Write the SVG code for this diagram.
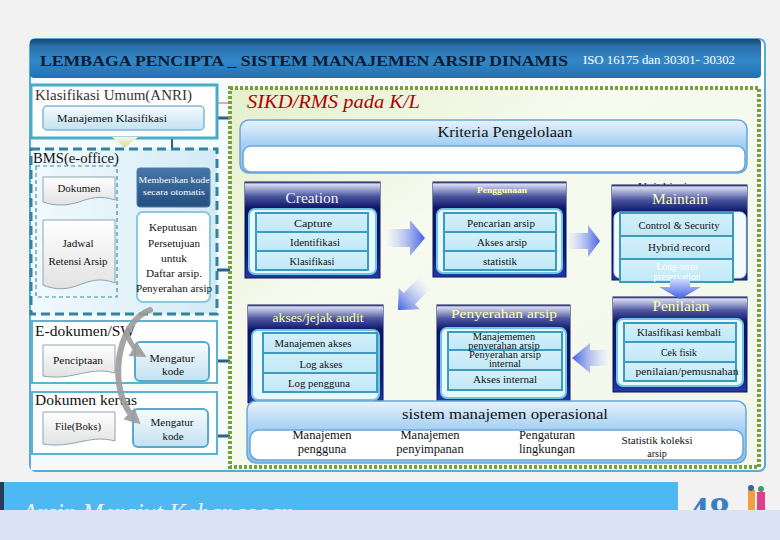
<svg xmlns="http://www.w3.org/2000/svg" width="780" height="540" viewBox="0 0 780 540">
<defs>
  <linearGradient id="hdrBlue" x1="0" y1="0" x2="0" y2="1">
    <stop offset="0" stop-color="#16456f"/><stop offset="0.18" stop-color="#2a6eaa"/><stop offset="0.55" stop-color="#3388c8"/><stop offset="1" stop-color="#2370b0"/>
  </linearGradient>
  <linearGradient id="btnG" x1="0" y1="0" x2="0" y2="1">
    <stop offset="0" stop-color="#f7fcfe"/><stop offset="1" stop-color="#c2e1f1"/>
  </linearGradient>
  <linearGradient id="darkBtn" x1="0" y1="0" x2="0" y2="1">
    <stop offset="0" stop-color="#4676a8"/><stop offset="1" stop-color="#234f7e"/>
  </linearGradient>
  <linearGradient id="bmsG" x1="0" y1="0" x2="1" y2="0">
    <stop offset="0" stop-color="#f2fafd"/><stop offset="1" stop-color="#d3ebf5"/>
  </linearGradient>
  <linearGradient id="docG" x1="0" y1="0" x2="0" y2="1">
    <stop offset="0" stop-color="#ffffff"/><stop offset="1" stop-color="#e2e2e2"/>
  </linearGradient>
  <linearGradient id="chevG" x1="0" y1="0" x2="0" y2="1">
    <stop offset="0" stop-color="#f6f7e4"/><stop offset="1" stop-color="#d5dba0"/>
  </linearGradient>
  <linearGradient id="greenBg" x1="0" y1="0" x2="1" y2="1">
    <stop offset="0" stop-color="#e4efcb"/><stop offset="0.35" stop-color="#f6faef"/><stop offset="1" stop-color="#f2f7ea"/>
  </linearGradient>
  <linearGradient id="critG" x1="0" y1="0" x2="0" y2="1">
    <stop offset="0" stop-color="#e8f3fd"/><stop offset="0.45" stop-color="#a6d0f4"/><stop offset="1" stop-color="#8ac0ef"/>
  </linearGradient>
  <linearGradient id="navyG" x1="0" y1="0" x2="0" y2="1">
    <stop offset="0" stop-color="#0a1460"/><stop offset="0.75" stop-color="#0d1a78"/><stop offset="1" stop-color="#2438aa"/>
  </linearGradient>
  <linearGradient id="hdrG" x1="0" y1="0" x2="0" y2="1">
    <stop offset="0" stop-color="#0a1250"/><stop offset="0.08" stop-color="#d9ddf2"/><stop offset="0.55" stop-color="#4a559f"/><stop offset="1" stop-color="#0c1668"/>
  </linearGradient>
  <linearGradient id="rowG" x1="0" y1="0" x2="0" y2="1">
    <stop offset="0" stop-color="#d4f0fa"/><stop offset="1" stop-color="#c0e8f7"/>
  </linearGradient>
  <linearGradient id="arrR" x1="0" y1="0" x2="1" y2="0">
    <stop offset="0" stop-color="#eef2ff" stop-opacity="0.4"/><stop offset="1" stop-color="#3f5fe2"/>
  </linearGradient>
  <linearGradient id="arrL" x1="1" y1="0" x2="0" y2="0">
    <stop offset="0" stop-color="#eef2ff" stop-opacity="0.4"/><stop offset="1" stop-color="#3f5fe2"/>
  </linearGradient>
  <linearGradient id="arrD" x1="0" y1="0" x2="0" y2="1">
    <stop offset="0" stop-color="#cfd9ff"/><stop offset="1" stop-color="#3f5fe2"/>
  </linearGradient>
  <marker id="ah" viewBox="0 0 10 10" refX="8" refY="5" markerWidth="8" markerHeight="8" markerUnits="userSpaceOnUse" orient="auto">
    <path d="M0,0 L10,5 L0,10 z" fill="#2d5f8c"/>
  </marker>
  <marker id="gh" viewBox="0 0 10 10" refX="6" refY="5" markerWidth="16" markerHeight="16" markerUnits="userSpaceOnUse" orient="auto">
    <path d="M0,0 L10,5 L0,10 z" fill="#9c9c9c"/>
  </marker>
  <clipPath id="bannerClip"><rect x="0" y="482" width="780" height="28"/></clipPath>
</defs>
<style>
  text{font-family:"Liberation Serif","DejaVu Serif",serif}
  .t{fill:#111;font-size:10.5px;text-anchor:middle}
  .row{fill:url(#rowG);stroke:#3a9bbf;stroke-width:2}
  .body{fill:#e9f8fd;stroke:#6fc6e2;stroke-width:2}
  .outer{fill:url(#navyG);stroke:#0b145a;stroke-width:1}
  .hdr{fill:url(#hdrG)}
  .ht{fill:#ffffa8;text-anchor:middle}
  .doc{fill:url(#docG);stroke:#8aa5b6;stroke-width:1}
  .conn{stroke:#2d5f8c;stroke-width:3;fill:none}
  .btn{fill:url(#btnG);stroke:#5ba9cc;stroke-width:2}
  .big{fill:#333;font-size:14.5px}
</style>

<!-- background -->
<rect width="780" height="540" fill="#f2f2f2"/>
<rect x="0" y="510" width="780" height="30" fill="#dae3f3"/>

<!-- main frame -->
<g id="frame">
  <rect x="30" y="39" width="735" height="432" rx="6" fill="#ffffff" stroke="#5aa9d6" stroke-width="2"/>
  <rect x="31" y="78" width="199" height="392" fill="#f5fbfd"/>
  <rect x="30" y="39" width="731" height="39" rx="4" fill="url(#hdrBlue)"/>
  <text x="40" y="66" font-size="14" font-weight="bold" fill="#0c1b36" textLength="528" lengthAdjust="spacingAndGlyphs">LEMBAGA PENCIPTA _ SISTEM MANAJEMEN ARSIP DINAMIS</text>
  <text x="583" y="64" font-size="12" fill="#ffffff" textLength="152" lengthAdjust="spacingAndGlyphs">ISO 16175 dan 30301- 30302</text>
</g>

<!-- connectors -->
<g id="connectors">
  <line x1="217" y1="103" x2="231" y2="103" stroke="#e2a9b5" stroke-width="2"/>
  <line class="conn" x1="204" y1="118" x2="231" y2="118"/>
  <line x1="172" y1="130" x2="172" y2="166" stroke="#2d5f8c" stroke-width="2" marker-end="url(#ah)"/>
  <line x1="137" y1="189" x2="126" y2="189" stroke="#2d5f8c" stroke-width="2" marker-end="url(#ah)"/>
  <line x1="125" y1="220" x2="136" y2="220" stroke="#2d5f8c" stroke-width="2" marker-end="url(#ah)"/>
  <line class="conn" x1="210" y1="270" x2="231" y2="270"/>
  <line class="conn" x1="209" y1="361" x2="231" y2="361"/>
  <line class="conn" x1="208" y1="436" x2="231" y2="436"/>
</g>

<!-- left column -->
<g id="klasifikasi-umum">
  <rect x="31" y="85" width="186" height="53" fill="#ffffff" stroke="#4bacc6" stroke-width="3"/>
  <text class="big" x="35" y="100" textLength="157" lengthAdjust="spacingAndGlyphs">Klasifikasi Umum(ANRI)</text>
</g>
<g id="manajemen-klasifikasi">
  <rect x="43" y="106" width="161" height="24" rx="4" fill="url(#btnG)" stroke="#7fb8d8" stroke-width="1.5"/>
  <text x="57" y="122" font-size="11" fill="#111" textLength="110" lengthAdjust="spacingAndGlyphs">Manajemen Klasifikasi</text>
</g>
<polygon points="112,137 138,137 125,148" fill="url(#chevG)"/>

<g id="bms">
  <rect x="31" y="149" width="186" height="165" fill="url(#bmsG)" stroke="#31849b" stroke-width="3" stroke-dasharray="9 5"/>
  <rect x="36" y="166" width="81" height="131" fill="none" stroke="#3a8fa8" stroke-width="1.2" stroke-dasharray="4 3"/>
  <text x="33" y="163" font-size="14" fill="#111" textLength="86" lengthAdjust="spacingAndGlyphs">BMS(e-office)</text>
</g>
<g id="dokumen">
  <path class="doc" d="M43,177 H115 V200 C100,195 90,198 79,202 C66,206 55,206 43,202 Z"/>
  <text class="t" x="79" y="192" font-size="10" textLength="43" lengthAdjust="spacingAndGlyphs">Dokumen</text>
</g>
<g id="jadwal-retensi">
  <path class="doc" d="M43,220 H115 V283 C100,277 90,281 79,285 C66,290 55,290 43,285 Z"/>
  <text class="t" x="78" y="247" textLength="31" lengthAdjust="spacingAndGlyphs">Jadwal</text>
  <text class="t" x="78" y="265" textLength="59" lengthAdjust="spacingAndGlyphs">Retensi Arsip</text>
</g>
<g id="memberikan-kode">
  <rect x="137" y="168" width="73" height="39" rx="3" fill="url(#darkBtn)" stroke="#4a7fb0" stroke-width="1"/>
  <text x="174" y="183" font-size="9" fill="#ffffff" text-anchor="middle" textLength="71" lengthAdjust="spacingAndGlyphs">Memberikan kode</text>
  <text x="174" y="195" font-size="9" fill="#ffffff" text-anchor="middle" textLength="62" lengthAdjust="spacingAndGlyphs">secara otomatis</text>
</g>
<g id="keputusan">
  <rect x="137" y="212" width="73" height="90" rx="6" fill="#ffffff" stroke="#8cc8de" stroke-width="2"/>
  <text class="t" x="173" y="231" textLength="48" lengthAdjust="spacingAndGlyphs">Keputusan</text>
  <text class="t" x="174" y="247" textLength="52" lengthAdjust="spacingAndGlyphs">Persetujuan</text>
  <text class="t" x="174" y="262" textLength="26" lengthAdjust="spacingAndGlyphs">untuk</text>
  <text class="t" x="174" y="277" textLength="56" lengthAdjust="spacingAndGlyphs">Daftar arsip.</text>
  <text class="t" x="174" y="292" textLength="76" lengthAdjust="spacingAndGlyphs">Penyerahan arsip</text>
</g>

<g id="e-dokumen">
  <rect x="32" y="321" width="185" height="62" fill="#ffffff" stroke="#5bb3d0" stroke-width="2"/>
  <text x="35" y="336" font-size="15.5" fill="#111" textLength="100" lengthAdjust="spacingAndGlyphs">E-dokumen/SW</text>
  <path class="doc" d="M43,345 H115 V373 C100,369 90,372 79,374 C66,377 55,378 43,376 Z"/>
  <text class="t" x="78" y="364" textLength="50" lengthAdjust="spacingAndGlyphs">Penciptaan</text>
</g>
<g id="mengatur-kode-1">
  <rect class="btn" x="135" y="342" width="74" height="39" rx="5"/>
  <text class="t" x="172" y="362" textLength="45" lengthAdjust="spacingAndGlyphs">Mengatur</text>
  <text class="t" x="173" y="375" textLength="22" lengthAdjust="spacingAndGlyphs">kode</text>
</g>
<g id="dokumen-kertas">
  <rect x="32" y="392" width="185" height="62" fill="#ffffff" stroke="#5bb3d0" stroke-width="2"/>
  <text x="35" y="405" font-size="15.5" fill="#111" textLength="102" lengthAdjust="spacingAndGlyphs">Dokumen kertas</text>
  <path class="doc" d="M43,412 H115 V441 C100,437 90,440 79,442 C66,445 55,446 43,444 Z"/>
  <text class="t" x="78" y="430" textLength="46" lengthAdjust="spacingAndGlyphs">File(Boks)</text>
</g>
<g id="mengatur-kode-2">
  <rect class="btn" x="133" y="409" width="75" height="38" rx="5"/>
  <text class="t" x="172" y="426" textLength="43" lengthAdjust="spacingAndGlyphs">Mengatur</text>
  <text class="t" x="173" y="440" textLength="21" lengthAdjust="spacingAndGlyphs">kode</text>
</g>
<g id="gray-arrows">
  <path d="M150,310 C116,322 106,392 136,420" fill="none" stroke="#9c9c9c" stroke-width="6" stroke-linecap="round" opacity="0.9" marker-end="url(#gh)"/>
  <path d="M127,334 C131,345 136,351 141,354" fill="none" stroke="#9c9c9c" stroke-width="5" opacity="0.9" marker-end="url(#gh)"/>
</g>

<!-- right area -->
<g id="sikd-area">
  <rect x="230" y="88" width="529" height="379" fill="url(#greenBg)" stroke="#77a03c" stroke-width="4" stroke-dasharray="3 2"/>
  <text x="247" y="108" font-size="19" font-style="italic" fill="#b00000" textLength="173" lengthAdjust="spacingAndGlyphs">SIKD/RMS pada K/L</text>
</g>
<g id="kriteria">
  <rect x="240" y="120" width="507" height="53" rx="9" fill="url(#critG)" stroke="#6aa6d8" stroke-width="1.5"/>
  <rect x="243" y="146" width="502" height="26" rx="8" fill="#ffffff" stroke="#6aa6d8" stroke-width="1.5"/>
  <text x="505" y="137" font-size="14" fill="#111" text-anchor="middle" textLength="135" lengthAdjust="spacingAndGlyphs">Kriteria Pengelolaan</text>
</g>

<g id="creation">
  <rect class="outer" x="245" y="182" width="135" height="96"/>
  <rect class="hdr" x="245" y="182" width="135" height="26"/>
  <rect class="body" x="249" y="209" width="127" height="65" rx="6"/>
  <rect class="row" x="256" y="213" width="112" height="19"/>
  <rect class="row" x="256" y="232" width="112" height="19"/>
  <rect class="row" x="256" y="251" width="112" height="19"/>
  <text x="312" y="203" font-size="15" fill="#f4f4f4" text-anchor="middle" textLength="53" lengthAdjust="spacingAndGlyphs">Creation</text>
  <text class="t" x="313" y="227" textLength="38" lengthAdjust="spacingAndGlyphs">Capture</text>
  <text class="t" x="315" y="246" textLength="50" lengthAdjust="spacingAndGlyphs">Identifikasi</text>
  <text class="t" x="312" y="265" textLength="45" lengthAdjust="spacingAndGlyphs">Klasifikasi</text>
</g>
<g id="penggunaan">
  <rect class="outer" x="433" y="182" width="133" height="95"/>
  <rect class="hdr" x="433" y="182" width="133" height="26"/>
  <rect class="body" x="437" y="209" width="125" height="64" rx="6"/>
  <rect class="row" x="444" y="213" width="112" height="19"/>
  <rect class="row" x="444" y="232" width="112" height="19"/>
  <rect class="row" x="444" y="251" width="112" height="19"/>
  <text class="ht" x="502" y="193" font-size="8" font-weight="bold" textLength="50" lengthAdjust="spacingAndGlyphs">Penggunaan</text>
  <text class="t" x="501" y="227" textLength="68" lengthAdjust="spacingAndGlyphs">Pencarian arsip</text>
  <text class="t" x="502" y="246" textLength="50" lengthAdjust="spacingAndGlyphs">Akses arsip</text>
  <text class="t" x="500" y="265" textLength="34" lengthAdjust="spacingAndGlyphs">statistik</text>
</g>
<g id="maintain">
  <text x="638" y="190" font-size="11" fill="#111" textLength="54" lengthAdjust="spacingAndGlyphs">Unit bisnis</text>
  <rect class="outer" x="612" y="185" width="135" height="95"/>
  <rect class="hdr" x="612" y="185" width="135" height="27"/>
  <rect x="614" y="212" width="132" height="66" rx="6" fill="#f4fbfe" stroke="#bfe6f3" stroke-width="1"/>
  <rect class="row" x="620" y="213" width="113" height="23"/>
  <rect class="row" x="620" y="236" width="113" height="23"/>
  <rect class="row" x="620" y="259" width="113" height="23"/>
  <text x="680" y="204" font-size="15" fill="#ffffa8" text-anchor="middle" textLength="56" lengthAdjust="spacingAndGlyphs">Maintain</text>
  <text class="t" x="679" y="229" textLength="81" lengthAdjust="spacingAndGlyphs">Control &amp; Security</text>
  <text class="t" x="679" y="251" textLength="62" lengthAdjust="spacingAndGlyphs">Hybrid record</text>
  <text x="677" y="270" font-size="9.5" fill="#ffffff" text-anchor="middle"><tspan x="677" y="270">Long-term</tspan><tspan x="677" y="280">preservation</tspan></text>
</g>
<g id="penilaian">
  <rect class="outer" x="613" y="297" width="134" height="95"/>
  <rect class="hdr" x="613" y="297" width="134" height="25"/>
  <rect class="body" x="617" y="319" width="126" height="67" rx="6"/>
  <rect class="row" x="624" y="323" width="112" height="19"/>
  <rect class="row" x="624" y="342" width="112" height="20"/>
  <rect class="row" x="624" y="362" width="112" height="19"/>
  <text x="681" y="311" font-size="14" fill="#ffffa8" text-anchor="middle" textLength="57" lengthAdjust="spacingAndGlyphs">Penilaian</text>
  <text class="t" x="679" y="336" textLength="84" lengthAdjust="spacingAndGlyphs">Klasifikasi kembali</text>
  <text class="t" x="679" y="356" textLength="36" lengthAdjust="spacingAndGlyphs">Cek fisik</text>
  <text class="t" x="687" y="375" textLength="103" lengthAdjust="spacingAndGlyphs">penilaian/pemusnahan</text>
</g>
<g id="akses-jejak-audit">
  <rect class="outer" x="248" y="305" width="135" height="98"/>
  <rect class="hdr" x="248" y="305" width="135" height="25"/>
  <rect class="body" x="252" y="330" width="127" height="70" rx="6"/>
  <rect class="row" x="263" y="333" width="114" height="20"/>
  <rect class="row" x="263" y="353" width="114" height="20"/>
  <rect class="row" x="263" y="373" width="114" height="19"/>
  <text x="318" y="322" font-size="13" fill="#ffffa8" text-anchor="middle" textLength="91" lengthAdjust="spacingAndGlyphs">akses/jejak audit</text>
  <text class="t" x="313" y="347" textLength="77" lengthAdjust="spacingAndGlyphs">Manajemen akses</text>
  <text class="t" x="321" y="368" textLength="43" lengthAdjust="spacingAndGlyphs">Log akses</text>
  <text class="t" x="319" y="387" textLength="62" lengthAdjust="spacingAndGlyphs">Log pengguna</text>
</g>
<g id="penyerahan-arsip">
  <rect class="outer" x="437" y="305" width="133" height="98"/>
  <rect class="hdr" x="437" y="305" width="133" height="25"/>
  <rect class="body" x="441" y="328" width="125" height="70" rx="6"/>
  <rect class="row" x="448" y="332" width="114" height="18"/>
  <rect class="row" x="448" y="350" width="114" height="20"/>
  <rect class="row" x="448" y="370" width="114" height="20"/>
  <text x="504" y="318" font-size="13" fill="#ffffa8" text-anchor="middle" textLength="106" lengthAdjust="spacingAndGlyphs">Penyerahan arsip</text>
  <text class="t" font-size="8.5"><tspan x="504" y="340">Manajememen</tspan><tspan x="504" y="348.5">penyerahan arsip</tspan><tspan x="505" y="357.5">Penyerahan arsip</tspan><tspan x="505" y="366.5">internal</tspan></text>
  <text class="t" x="505" y="383" textLength="64" lengthAdjust="spacingAndGlyphs">Akses internal</text>
</g>

<g id="flow-arrows">
  <polygon points="387,229 410,229 410,220 425,238 410,256 410,247 387,247" fill="url(#arrR)"/>
  <polygon points="568,233 588,233 588,225 600,241 588,257 588,249 568,249" fill="url(#arrR)"/>
  <polygon points="670,279 690,279 690,287 701,287 680,299 659,287 670,287" fill="url(#arrD)"/>
  <polygon points="608,350 590,350 590,343 572,358 590,373 590,366 608,366" fill="url(#arrL)"/>
  <polygon transform="translate(398,310) rotate(135)" points="-38,-8 -16,-8 -16,-15 0,0 -16,15 -16,8 -38,8" fill="url(#arrR)"/>
</g>

<g id="sistem-manajemen-operasional">
  <rect x="247" y="401" width="499" height="62" rx="9" fill="url(#critG)" stroke="#6aa6d8" stroke-width="1.5"/>
  <rect x="250" y="430" width="493" height="30" rx="9" fill="#ffffff" stroke="#6aa6d8" stroke-width="1.5"/>
  <text x="505" y="419" font-size="15.5" fill="#111" text-anchor="middle" textLength="206" lengthAdjust="spacingAndGlyphs">sistem manajemen operasional</text>
  <text x="322" y="439" font-size="12.5" fill="#111" text-anchor="middle">Manajemen</text>
  <text x="322" y="453" font-size="12.5" fill="#111" text-anchor="middle">pengguna</text>
  <text x="430" y="439" font-size="12.5" fill="#111" text-anchor="middle">Manajemen</text>
  <text x="430" y="453" font-size="12.5" fill="#111" text-anchor="middle">penyimpanan</text>
  <text x="547" y="439" font-size="12.5" fill="#111" text-anchor="middle">Pengaturan</text>
  <text x="547" y="453" font-size="12.5" fill="#111" text-anchor="middle">lingkungan</text>
  <text x="657" y="444" font-size="10" fill="#111" text-anchor="middle" textLength="71" lengthAdjust="spacingAndGlyphs">Statistik koleksi</text>
  <text x="657" y="457" font-size="10" fill="#111" text-anchor="middle">arsip</text>
</g>

<!-- footer banner (cut off) -->
<g id="footer" clip-path="url(#bannerClip)">
  <rect x="0" y="482" width="678" height="28" fill="#4db8f2"/>
  <rect x="0" y="482" width="4" height="28" fill="#2b3b55"/>
  <text x="22" y="522" font-size="27" font-style="italic" fill="#e6f3fd" textLength="272" lengthAdjust="spacingAndGlyphs">Arsip Merajut Kebangsaan</text>
  <text x="688" y="526" font-size="42" font-weight="bold" fill="#3a7fc4" font-family="Liberation Sans, sans-serif">48</text>
  <rect x="748" y="490" width="7" height="20" fill="#f0a040"/>
  <rect x="757" y="492" width="8" height="18" fill="#e0408a"/>
  <circle cx="751" cy="488" r="3" fill="#4060a0"/>
  <circle cx="761" cy="489" r="3" fill="#40a060"/>
</g>
</svg>
